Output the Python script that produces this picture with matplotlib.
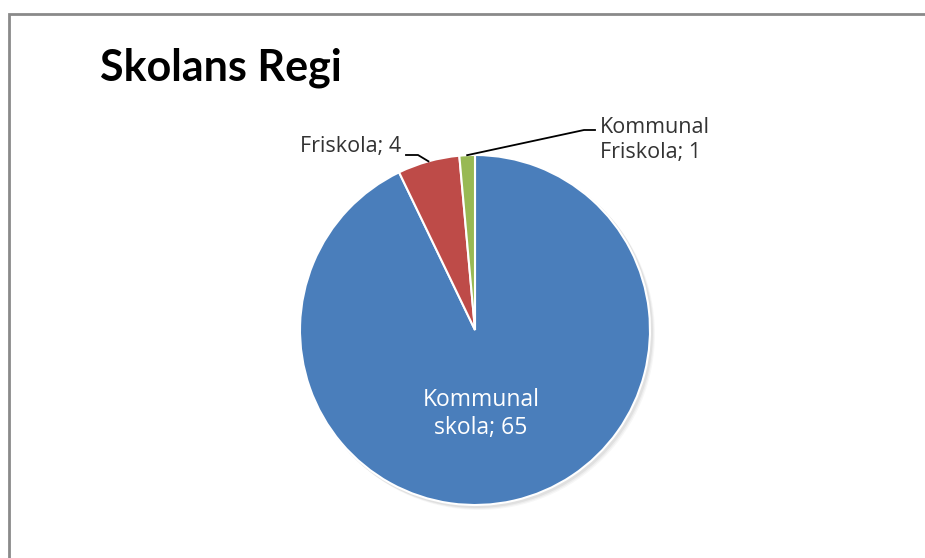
import numpy as np
import matplotlib.pyplot as plt
from matplotlib.patches import Rectangle

# data
categories = ['Kommunal skola', 'Friskola', 'Kommunal Friskola']
values = [65, 4, 1]
colors = ['#4A7EBB', '#BE4B48', '#98B954']

plt.rcParams['font.family'] = ['Open Sans', 'DejaVu Sans']

W, H = 925, 558
fig = plt.figure(figsize=(W / 100, H / 100), dpi=100)
ax = fig.add_axes([0, 0, 1, 1])

# chart frame (cut off at right and bottom like the screenshot)
ax.add_patch(Rectangle((9, -10), 1000, H - 14 + 10, fill=False,
                       edgecolor='#8a8a8a', linewidth=2))

cx, cy, r = 475, H - 330, 175

# faint shadow under the pie
for k, a in enumerate([0.05, 0.04, 0.03]):
    ax.add_patch(plt.Circle((cx + 2 + k, cy - 2 - k), r + 1, color='black',
                            alpha=a, zorder=1, lw=0))

wedges, _ = ax.pie(values, colors=colors, startangle=90, counterclock=False,
                   center=(cx, cy), radius=r, frame=True,
                   wedgeprops=dict(edgecolor='white', linewidth=1.5, zorder=2))
ax.set_xlim(0, W)
ax.set_ylim(0, H)
ax.axis('off')

ax.text(100, H - 81, 'Skolans Regi', fontsize=31, fontweight='bold',
        ha='left', va='baseline', color='black', family=['Lato', 'DejaVu Sans'])


def wedge_edge(w):
    ang = np.deg2rad((w.theta1 + w.theta2) / 2)
    return cx + r * np.cos(ang), cy + r * np.sin(ang)


# inside label for the big slice
ax.text(481, H - 414, f'Kommunal\n{categories[0].split()[1]}; {values[0]}',
        color='white', fontsize=16.5, ha='center', va='center',
        linespacing=1.2, zorder=5)

# Friskola label with leader line
px, py = wedge_edge(wedges[1])
ax.plot([px, 418, 406], [py, H - 155, H - 155], color='black', lw=1.3, zorder=5)
ax.text(401, H - 152, f'{categories[1]}; {values[1]}', fontsize=15.5,
        ha='right', va='baseline', color='#333333')

# Kommunal Friskola label with leader line
px, py = wedge_edge(wedges[2])
ax.plot([px, 584, 595], [py, H - 130, H - 130], color='black', lw=1.3, zorder=5)
ax.text(600, H - 140, 'Kommunal\nFriskola; ' + str(values[2]), fontsize=15.5,
        ha='left', va='center', color='#333333', linespacing=1.2)

fig.savefig('out.png', dpi=100, facecolor='white')
